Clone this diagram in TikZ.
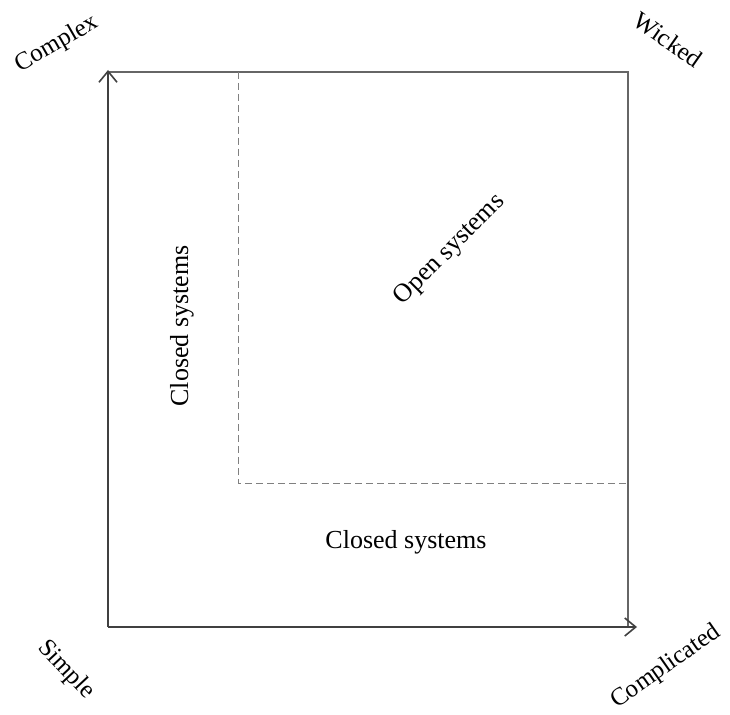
\documentclass[tikz,border=0pt]{standalone}
\usepackage{fontspec}
\setmainfont{Liberation Serif}
\usetikzlibrary{arrows.meta}

\begin{document}
\begin{tikzpicture}[x=1pt, y=-1pt, every node/.style={font=\fontsize{26}{30}\selectfont, inner sep=0pt}, axis/.style={draw=black!75, line width=1.6pt, -{Straight Barb[length=11pt, width=18pt, line width=1.6pt]}}, frame/.style={draw=black!60, line width=1.4pt}, border/.style={draw=black!50, line width=1pt, dash pattern=on 7pt off 4pt}, corner/.style={font=\fontsize{25}{29}\selectfont}]
			\path[use as bounding box] (0,0) rectangle (730,714);
			\coordinate (o) at (108,627);
			\coordinate (ytop) at (108,70);
			\coordinate (xend) at (637,627);
			\coordinate (tl) at (108,72);
			\coordinate (tr) at (628,72);
			\coordinate (br) at (628,627);
			\coordinate (dtop) at (238,72);
			\coordinate (dmid) at (238,483);
			\coordinate (dright) at (628,483);
			
			\node[corner, rotate=30] (complex) at (57,44){Complex};
			\node[corner, rotate=-35] (wicked) at (668,40){Wicked};
			\node[corner, rotate=-47] (simple) at (66,670){Simple};
			\node[corner, rotate=35] (complicated) at (666,667){Complicated};
			\node[rotate=90] (closedv) at (182,326){Closed systems};
			\node[rotate=45] (open) at (450,250){Open systems};
			\node (closedh) at (406,542){Closed systems};
			
			\path[frame] (tl) -- (tr) -- (br);
			\path[border] (dtop) -- (dmid) -- (dright);
			\path[axis] (o) -- (ytop);
			\path[axis] (o) -- (xend);
			\end{tikzpicture}
\end{document}
